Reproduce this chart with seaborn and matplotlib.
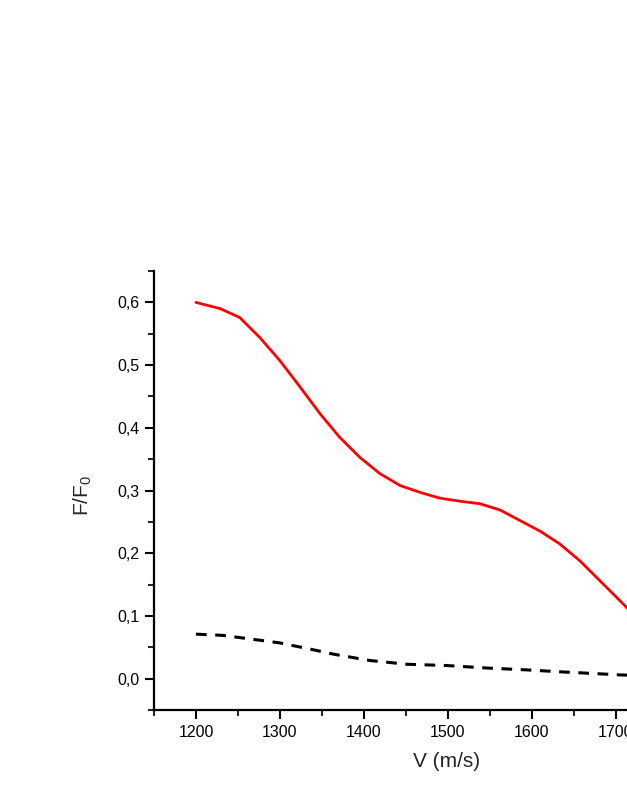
import numpy as np
import pandas as pd
import matplotlib
matplotlib.use("Agg")
import matplotlib.pyplot as plt
from matplotlib.ticker import MultipleLocator, FuncFormatter
import seaborn as sns

# ── DATA ──────────────────────────────────────────────────────────────────────
V_red = [1200, 1229, 1252, 1276, 1300, 1324, 1348, 1371, 1395, 1419, 1443,
         1467, 1490, 1514, 1538, 1562, 1586, 1610, 1633, 1657, 1681, 1705, 1730]
F_red = [0.600, 0.590, 0.576, 0.544, 0.507, 0.465, 0.422, 0.385, 0.353, 0.327, 0.308,
         0.297, 0.288, 0.283, 0.279, 0.269, 0.252, 0.235, 0.215, 0.188, 0.156, 0.124, 0.090]

V_dash = [1200, 1232, 1272, 1300, 1340, 1364, 1407, 1451, 1498, 1546, 1594,
          1633, 1677, 1705, 1730]
F_dash = [0.071, 0.069, 0.062, 0.057, 0.046, 0.039, 0.029, 0.023, 0.021, 0.017, 0.014,
          0.011, 0.008, 0.006, 0.005]

# ── STYLE ─────────────────────────────────────────────────────────────────────
sns.set_style("ticks")
plt.rcParams["font.family"] = ["Liberation Sans", "DejaVu Sans"]
plt.rcParams["mathtext.default"] = "regular"

fig = plt.figure(figsize=(6.27, 8.11), dpi=100)
ax = fig.add_axes([0.2456, 0.1245, 1.1, 0.5413])

red = pd.DataFrame({"V": V_red, "F": F_red})
dash = pd.DataFrame({"V": V_dash, "F": F_dash})
sns.lineplot(data=red, x="V", y="F", ax=ax, color="#ff0000", linewidth=2.0)
sns.lineplot(data=dash, x="V", y="F", ax=ax, color="black", linewidth=2.2)
ax.lines[-1].set_dashes((3.5, 2.8))

# 84 px per 100 m/s -> axes width 1.1*627 = 690 px
ax.set_xlim(1150, 1150 + 1.1 * 627 / 0.84)
ax.set_ylim(-0.05, 0.65)

ax.xaxis.set_major_locator(MultipleLocator(100))
ax.xaxis.set_minor_locator(MultipleLocator(50))
ax.yaxis.set_major_locator(MultipleLocator(0.1))
ax.yaxis.set_minor_locator(MultipleLocator(0.05))
ax.yaxis.set_major_formatter(FuncFormatter(lambda v, p: f"{v:.1f}".replace(".", ",").replace("-0,0", "0,0")))
ax.xaxis.set_major_formatter(FuncFormatter(lambda v, p: f"{v:.0f}"))

ax.tick_params(which="major", direction="out", length=6.5, width=1.5, labelsize=11.5,
               colors="black", pad=4)
ax.tick_params(which="minor", direction="out", length=4, width=1.5)
for s in ["left", "bottom"]:
    ax.spines[s].set_linewidth(1.6)
    ax.spines[s].set_color("black")
for s in ["top", "right"]:
    ax.spines[s].set_visible(False)

ax.set_xlabel("V (m/s)", fontsize=15)
ax.set_ylabel(r"F/F$_0$", fontsize=15)
ax.xaxis.set_label_coords((447 - 154) / (1.1 * 627), -0.095)
ax.yaxis.set_label_coords(-(154 - 94) / (1.1 * 627), (811 - 495 - 101) / (0.5413 * 811))

fig.savefig("out.png", dpi=100)
